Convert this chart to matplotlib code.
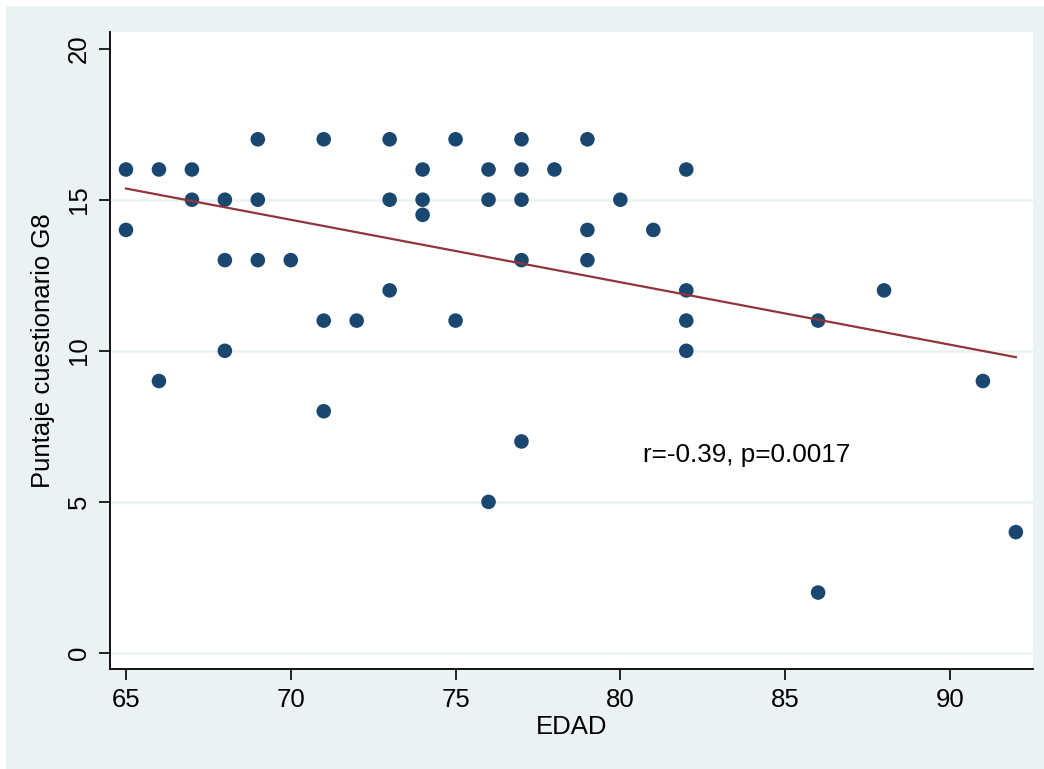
import matplotlib.pyplot as plt
import numpy as np
from matplotlib.patches import Rectangle

plt.rcParams['font.family'] = ['Liberation Sans', 'DejaVu Sans']

#%% Data
edad = [65, 65, 66, 66, 67, 67, 68, 68, 68, 69, 69, 69, 70, 71, 71, 71, 72,
        73, 73, 73, 74, 74, 74, 75, 75, 76, 76, 76, 77, 77, 77, 77, 77, 78,
        79, 79, 79, 80, 81, 82, 82, 82, 82, 86, 86, 88, 91, 92]
puntaje = [16, 14, 16, 9, 16, 15, 15, 13, 10, 17, 15, 13, 13, 17, 11, 8, 11,
           17, 15, 12, 16, 15, 14.5, 17, 11, 16, 15, 5, 17, 16, 15, 13, 7, 16,
           17, 14, 13, 15, 14, 16, 12, 11, 10, 11, 2, 12, 9, 4]

# fitted line
fit_intercept_65 = 15.37
fit_slope = -0.2067
fit_range = [65, 92]
annot = "r=-0.39, p=0.0017"

navy = "#1A476F"
maroon = "#90353B"
bg = "#EAF2F3"

#%% Plot
fig = plt.figure(figsize=(10.44, 7.69), dpi=100)
fig.patch.set_facecolor("white")
fig.patches.append(Rectangle((6 / 1044, 0), 1, 1 - 6 / 769, transform=fig.transFigure,
                             facecolor=bg, edgecolor="none", zorder=-10))

ax = fig.add_axes([110 / 1044, 1 - 669 / 769, (1033 - 110) / 1044, (669 - 32) / 769])
ax.set_facecolor("white")

ax.set_xlim(64.515, 92.52)
ax.set_ylim(-0.53, 20.55)

for g in [0, 5, 10, 15]:
    ax.axhline(g, color=bg, lw=1.8, zorder=1)

ax.scatter(edad, puntaje, s=110, color=navy, edgecolors="none", zorder=3)

lx = np.array(fit_range, dtype=float)
ly = fit_intercept_65 + fit_slope * (lx - 65)
ax.plot(lx, ly, color=maroon, lw=1.6, zorder=4)

ax.text(80.69, 6.31, annot, fontsize=18.8, ha="left", va="baseline", zorder=5)

ax.set_xticks([65, 70, 75, 80, 85, 90])
ax.set_yticks([0, 5, 10, 15, 20])
ax.tick_params(axis="both", length=8, width=1.2, labelsize=18.5, direction="out", pad=6)
for lab in ax.get_yticklabels():
    lab.set_rotation(90)
    lab.set_va("center")

ax.spines["top"].set_visible(False)
ax.spines["right"].set_visible(False)
ax.spines["left"].set_linewidth(1.3)
ax.spines["bottom"].set_linewidth(1.3)

ax.set_xlabel("EDAD", fontsize=18.5, labelpad=2)
ax.set_ylabel("Puntaje cuestionario G8", fontsize=18.5, labelpad=8)

fig.savefig("out.png", dpi=100, facecolor=fig.get_facecolor())
